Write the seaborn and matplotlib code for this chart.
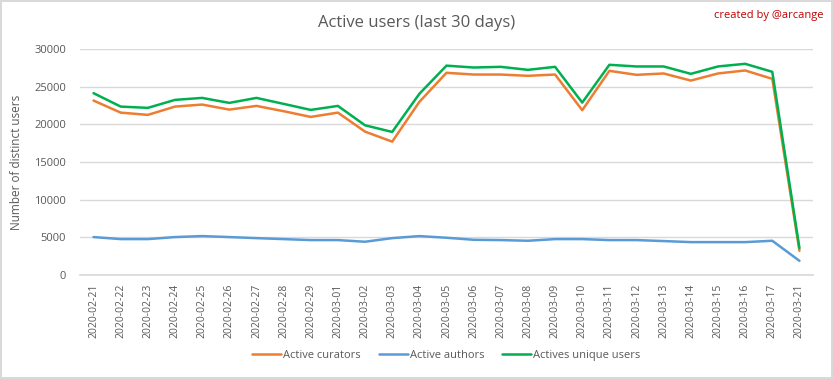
import numpy as np
import pandas as pd
import matplotlib
matplotlib.use("Agg")
import matplotlib.pyplot as plt
import seaborn as sns

dates = ["2020-02-21", "2020-02-22", "2020-02-23", "2020-02-24", "2020-02-25",
         "2020-02-26", "2020-02-27", "2020-02-28", "2020-02-29", "2020-03-01",
         "2020-03-02", "2020-03-03", "2020-03-04", "2020-03-05", "2020-03-06",
         "2020-03-07", "2020-03-08", "2020-03-09", "2020-03-10", "2020-03-11",
         "2020-03-12", "2020-03-13", "2020-03-14", "2020-03-15", "2020-03-16",
         "2020-03-17", "2020-03-21"]
curators = [23150, 21550, 21250, 22350, 22620, 21950, 22440, 21740, 20980, 21550,
            19030, 17700, 22970, 26830, 26600, 26600, 26430, 26600, 21870, 27090,
            26560, 26740, 25800, 26740, 27140, 26030, 3230]
authors = [5050, 4780, 4780, 5050, 5180, 5050, 4910, 4780, 4650, 4650,
           4430, 4910, 5180, 4960, 4690, 4650, 4560, 4780, 4780, 4650,
           4650, 4520, 4380, 4380, 4380, 4560, 1900]
unique_users = [24130, 22350, 22180, 23240, 23500, 22840, 23500, 22710, 21910, 22440,
                19870, 18990, 24040, 27780, 27530, 27620, 27220, 27620, 22880, 27890,
                27670, 27670, 26690, 27670, 28020, 26960, 3590]

series = ["Active curators", "Active authors", "Actives unique users"]
colors = ["#ED7D31", "#5B9BD5", "#00B050"]

df = pd.concat([
    pd.DataFrame({"date": dates, "users": curators, "series": series[0]}),
    pd.DataFrame({"date": dates, "users": authors, "series": series[1]}),
    pd.DataFrame({"date": dates, "users": unique_users, "series": series[2]}),
])

sns.set_theme(style="white")
plt.rcParams["font.family"] = ["Open Sans", "DejaVu Sans"]

fig = plt.figure(figsize=(8.33, 3.79), dpi=100)
fig.patch.set_edgecolor("#D9D9D9")
fig.patch.set_linewidth(1.5)
ax = fig.add_axes([0.096, 0.274, 0.88, 0.597])

sns.lineplot(data=df, x="date", y="users", hue="series", palette=colors,
             hue_order=series, linewidth=1.8, ax=ax, sort=False)

ax.set_xlim(-0.5, len(dates) - 0.5)
ax.set_ylim(0, 30000)
ax.set_yticks(np.arange(0, 30001, 5000))
ax.yaxis.grid(True, color="#D9D9D9", linewidth=1)
ax.set_axisbelow(True)
for side in ["top", "right", "left"]:
    ax.spines[side].set_visible(False)
ax.spines["bottom"].set_color("#D9D9D9")
ax.tick_params(axis="x", rotation=90, labelsize=7.5, labelcolor="#595959", length=0, pad=6)
ax.tick_params(axis="y", labelsize=8, labelcolor="#595959", length=0, pad=10)
ax.set_xlabel("")
ax.set_ylabel("Number of distinct users", fontsize=8.5, color="#595959", labelpad=8)

fig.text(0.5, 0.94, "Active users (last 30 days)", ha="center", va="center",
         fontsize=12, color="#595959")
fig.text(0.988, 0.96, "created by @arcange", ha="right", va="center",
         fontsize=8, color="#C00000")

leg = ax.legend(loc="center", bbox_to_anchor=(0.5, -0.355), ncol=3, frameon=False,
                fontsize=8, handlelength=2.6, columnspacing=1.6, handletextpad=0.2)
for t in leg.get_texts():
    t.set_color("#595959")

plt.savefig("out.png", dpi=100)
